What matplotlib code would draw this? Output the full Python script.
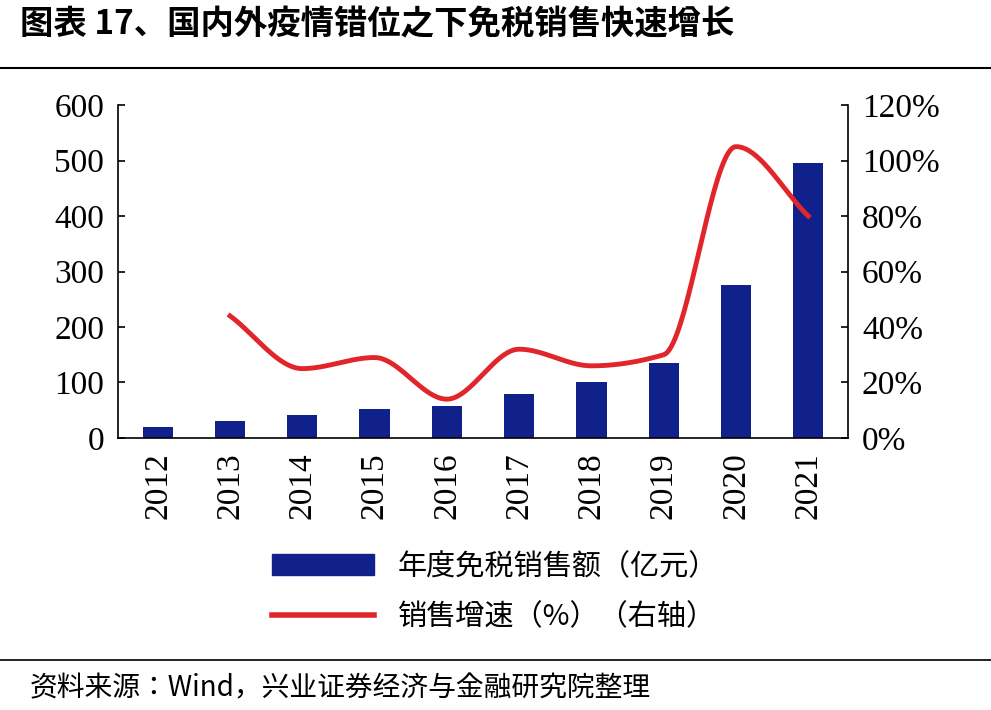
import numpy as np
import matplotlib
matplotlib.use("Agg")
import matplotlib.pyplot as plt
from matplotlib.lines import Line2D
from matplotlib.patches import Patch
from matplotlib import font_manager

years = ["2012","2013","2014","2015","2016","2017","2018","2019","2020","2021"]
sales = [20, 30, 42, 52, 57, 80, 101, 135, 275, 495]
growth_years = ["2013","2014","2015","2016","2017","2018","2019","2020","2021"]
growth = [44, 25, 29, 14, 32, 26, 30, 105, 80]

names = sorted({f.name for f in font_manager.fontManager.ttflist})
cjk_list = [n for n in names if "CJK" in n]
pref = [n for n in ["Noto Sans CJK SC", "Noto Serif CJK SC", "Noto Sans CJK JP"] if n in names]
cjk = (pref or cjk_list or ["DejaVu Sans"])[0]
serif = "Liberation Serif"

fig = plt.figure(figsize=(9.91, 7.1), dpi=100)
ax = fig.add_axes([118/991, 1-438/710, (848-118)/991, (438-105)/710])
x = np.arange(len(years))
ax.bar(x, sales, width=0.42, color="#10218B", zorder=2)
ax.set_ylim(0, 600)
ax.set_xlim(-0.55, len(years)-0.45)
ax.set_yticks(range(0, 601, 100))
ax.set_xticks(x)
ax.set_xticklabels(years, rotation=90, fontfamily=serif, fontsize=24)
for t in ax.get_yticklabels():
    t.set_fontfamily(serif); t.set_fontsize(24)
for s in ["top", "right"]:
    ax.spines[s].set_visible(False)
ax.tick_params(axis="both", direction="in", length=5, width=1.2)
ax.tick_params(axis="x", length=0, pad=10)
ax.tick_params(axis="y", pad=10)
ax.spines["left"].set_linewidth(1.2)
ax.spines["bottom"].set_linewidth(1.2)

ax2 = ax.twinx()
gx = np.array([years.index(y) for y in growth_years], float)
gy = np.array(growth, float)
# PCHIP (monotone) smoothing for display
h = np.diff(gx); d = np.diff(gy)/h
m = np.zeros_like(gy)
for i in range(1, len(gy)-1):
    if d[i-1]*d[i] > 0:
        m[i] = 2/(1/d[i-1]+1/d[i])
m[0] = d[0]; m[-1] = d[-1]
sx, sy = [], []
t = np.linspace(0, 1, 40)
for i in range(len(gx)-1):
    h00 = 2*t**3-3*t**2+1; h10 = t**3-2*t**2+t; h01 = -2*t**3+3*t**2; h11 = t**3-t**2
    sx.extend(gx[i]+t*h[i])
    sy.extend(h00*gy[i]+h10*h[i]*m[i]+h01*gy[i+1]+h11*h[i]*m[i+1])
ax2.plot(sx, sy, color="#E0262B", lw=3.5, zorder=3)
ax2.set_ylim(0, 120)
ax2.set_yticks(range(0, 121, 20))
ax2.set_yticklabels([f"{v}%" for v in range(0, 121, 20)], fontfamily=serif, fontsize=24)
for s in ["top", "left", "bottom"]:
    ax2.spines[s].set_visible(False)
ax2.spines["right"].set_linewidth(1.2)
ax2.tick_params(axis="y", direction="in", length=5, width=1.2, pad=10)

fig.text(20/991, 1-25/710, "图表 17、国内外疫情错位之下免税销售快速增长", fontfamily=cjk,
         fontweight="bold", fontsize=24, va="center", ha="left")
fig.add_artist(Line2D([0, 1], [1-68/710]*2, color="black", lw=1.5))
fig.add_artist(Line2D([0, 1], [1-660/710]*2, color="black", lw=1.2))
fig.text(30/991, 1-688/710, "资料来源：Wind，兴业证券经济与金融研究院整理", fontfamily=cjk,
         fontsize=20, va="center", ha="left")

handles = [Patch(color="#10218B"), Line2D([], [], color="#E0262B", lw=4)]
fig.legend(handles, ["年度免税销售额（亿元）", "销售增速（%）（右轴）"],
           loc="center", bbox_to_anchor=(495/991, 1-592/710), frameon=False,
           prop={"family": cjk, "size": 21}, handlelength=3.5, labelspacing=0.7)

fig.savefig("out.png", dpi=100)
